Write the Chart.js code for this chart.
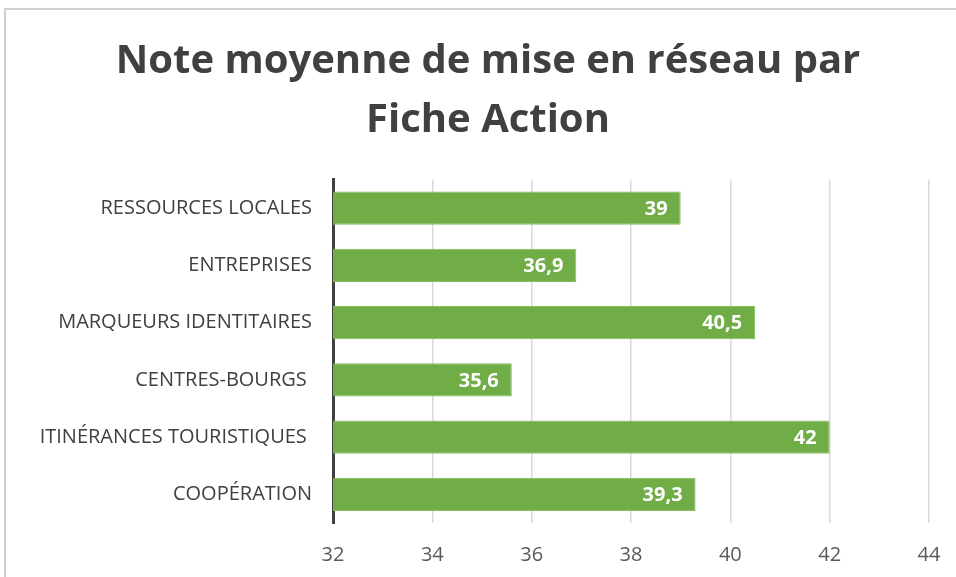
<!DOCTYPE html>
<html>
<head>
<meta charset="utf-8">
<script src="https://cdn.jsdelivr.net/npm/chart.js@4"></script>
<style>
  html, body { margin: 0; padding: 0; background: #fff; overflow: hidden; }
  #wrap { position: relative; width: 956px; height: 577px; }
  #frame { position: absolute; left: 4px; top: 8px; width: 980px; height: 600px; border: 2px solid #d0d0d0; box-sizing: border-box; }
  canvas { position: absolute; left: 0; top: 0; }
</style>
</head>
<body>
<div id="wrap">
  <div id="frame"></div>
  <canvas id="MyChart" width="956" height="577"></canvas>
</div>
<script>
var categories = [
  'RESSOURCES LOCALES',
  'ENTREPRISES',
  'MARQUEURS IDENTITAIRES',
  'CENTRES-BOURGS ',
  'ITINÉRANCES TOURISTIQUES ',
  'COOPÉRATION'
];
var values = [39, 36.9, 40.5, 35.6, 42, 39.3];
var xTicks = [32, 34, 36, 38, 40, 42, 44];
var titleLines = ['Note moyenne de mise en réseau par', 'Fiche Action'];

var FONT = "'Open Sans', 'DejaVu Sans', sans-serif";

// white value labels at the end of each bar
const barLabels = {
  id: 'barLabels',
  afterDatasetsDraw(chart) {
    const ctx = chart.ctx;
    const meta = chart.getDatasetMeta(0);
    ctx.save();
    ctx.fillStyle = '#ffffff';
    ctx.font = "bold 20px " + FONT;
    ctx.textAlign = 'right';
    ctx.textBaseline = 'middle';
    meta.data.forEach(function (bar, i) {
      var txt = String(values[i]).replace('.', ',');
      ctx.fillText(txt, bar.x - 13, bar.y + 1);
    });
    ctx.restore();
  }
};

const data = {
  labels: categories,
  datasets: [{
    data: values,
    backgroundColor: '#70ad47',
    borderColor: '#86bd62',
    borderWidth: 1,
    borderSkipped: 'start',
    barPercentage: 0.58,
    categoryPercentage: 1
  }]
};

const config = {
  type: 'bar',
  data: data,
  options: {
    indexAxis: 'y',
    responsive: false,
    animation: false,
    layout: { padding: { left: 20, right: 0, top: 8, bottom: 0 } },
    plugins: {
      legend: { display: false },
      tooltip: { enabled: false },
      title: {
        display: true,
        text: titleLines,
        color: '#404040',
        font: { family: FONT, size: 40, weight: 'bold', lineHeight: 1.47 },
        padding: { top: 24, bottom: 30 }
      }
    },
    scales: {
      x: {
        min: 32,
        max: 44,
        afterBuildTicks: function (scale) {
          scale.ticks = xTicks.map(function (v) { return { value: v }; });
        },
        afterFit: function (scale) {
          scale.height = 54;
          scale.paddingLeft = 0;
          scale.paddingRight = 0;
        },
        grid: { color: '#d9d9d9', lineWidth: 1.5, drawTicks: false },
        border: { display: false },
        ticks: {
          color: '#595959',
          padding: 20,
          font: { family: FONT, size: 20 }
        }
      },
      y: {
        afterFit: function (scale) { scale.width = 313; },
        grid: { display: false },
        border: { display: true, color: '#404040', width: 3 },
        ticks: {
          color: '#404040',
          padding: 13,
          font: { family: FONT, size: 20 }
        }
      },
      // empty right margin so the title centres like the original
      yRight: {
        type: 'linear',
        position: 'right',
        afterFit: function (scale) { scale.width = 27; },
        grid: { display: false },
        border: { display: false },
        ticks: { display: false }
      }
    }
  },
  plugins: [barLabels]
};

const myChart = new Chart(document.getElementById('MyChart'), config);
</script>
</body>
</html>
